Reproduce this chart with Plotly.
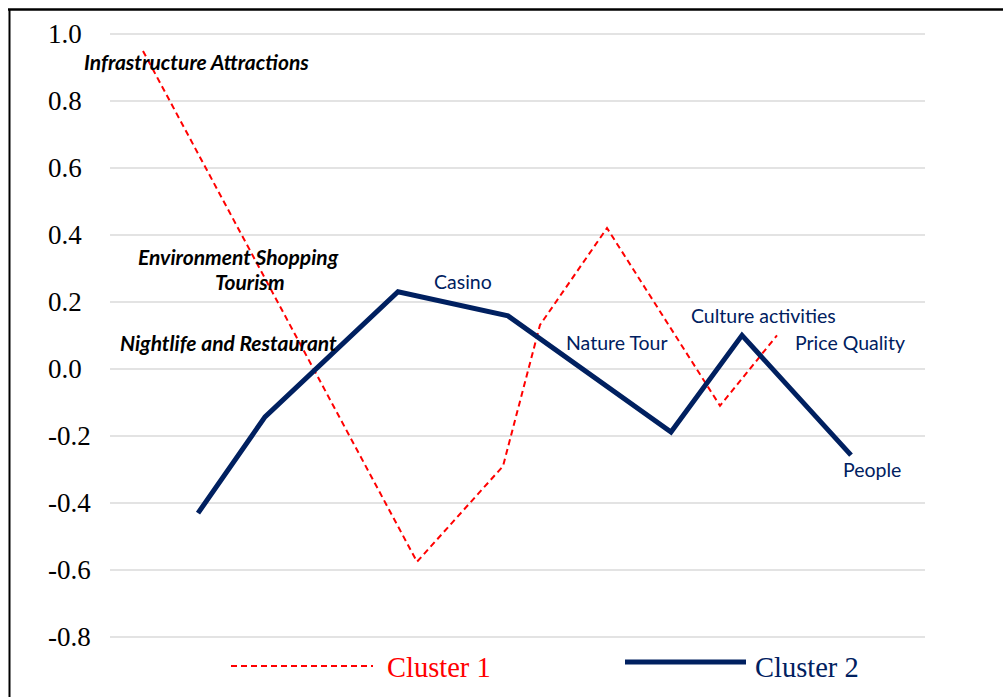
import plotly.graph_objects as go

# ---- data ----
cluster1_x = [0.33, 3.07, 3.93, 4.30, 4.97, 6.10, 6.67]
cluster1_y = [0.948, -0.575, -0.29, 0.131, 0.42, -0.11, 0.10]

cluster2_x = [0.88, 1.55, 2.88, 3.98, 5.61, 6.32, 7.41]
cluster2_y = [-0.43, -0.143, 0.23, 0.158, -0.188, 0.10, -0.257]

tick_vals = [1.0, 0.8, 0.6, 0.4, 0.2, 0.0, -0.2, -0.4, -0.6, -0.8]
tick_text = ["1.0", "0.8", "0.6", "0.4", "0.2", "0.0", "-0.2", "-0.4", "-0.6", "-0.8"]

bold_labels = ["Infrastructure Attractions", "Environment Shopping", "Tourism", "Nightlife and Restaurant"]
bold_pos = [(0.86, 0.918), (1.28, 0.334), (1.40, 0.26), (1.18, 0.08)]

navy_labels = ["Casino", "Nature Tour", "Culture activities", "Price Quality", "People"]
navy_pos = [(3.53, 0.26), (5.07, 0.08), (6.53, 0.158), (7.40, 0.078), (7.62, -0.30)]

series_names = ["Cluster 1", "Cluster 2"]

RED = "#FF0000"
NAVY = "#002060"

W, H = 1003, 697
ML, MR, MT, MB = 110, 78, 17, 43
PW, PH = W - ML - MR, H - MT - MB


def px_to_paper_x(px):
    return (px - ML) / PW


def px_to_paper_y(py):
    return (H - MB - py) / PH


fig = go.Figure()
fig.add_trace(go.Scatter(x=cluster1_x, y=cluster1_y, mode="lines", name=series_names[0],
                         line=dict(color=RED, width=2, dash="6px,4px"), showlegend=False))
fig.add_trace(go.Scatter(x=cluster2_x, y=cluster2_y, mode="lines", name=series_names[1],
                         line=dict(color=NAVY, width=5), showlegend=False))

annotations = []
for txt, (x, y) in zip(bold_labels, bold_pos):
    annotations.append(dict(x=x, y=y, xref="x", yref="y", text=f"<b><i>{txt}</i></b>", showarrow=False,
                            font=dict(family="Lato", size=21, color="#000000"), xanchor="center", yanchor="middle"))
for txt, (x, y) in zip(navy_labels, navy_pos):
    annotations.append(dict(x=x, y=y, xref="x", yref="y", text=txt, showarrow=False,
                            font=dict(family="Lato", size=19.5, color=NAVY), xanchor="center", yanchor="middle"))

# y tick labels (left aligned, as in the reference)
for v, t in zip(tick_vals, tick_text):
    annotations.append(dict(x=px_to_paper_x(46), y=v, xref="paper", yref="y", text=t, showarrow=False,
                            font=dict(family="Liberation Serif", size=27, color="#000000"),
                            xanchor="left", yanchor="middle"))

# legend (drawn manually to match long sample lines)
annotations.append(dict(x=px_to_paper_x(385), y=px_to_paper_y(667), xref="paper", yref="paper",
                        text=series_names[0], showarrow=False, xanchor="left", yanchor="middle",
                        font=dict(family="Liberation Serif", size=28.5, color=RED)))
annotations.append(dict(x=px_to_paper_x(753), y=px_to_paper_y(667), xref="paper", yref="paper",
                        text=series_names[1], showarrow=False, xanchor="left", yanchor="middle",
                        font=dict(family="Liberation Serif", size=28.5, color=NAVY)))

shapes = [
    dict(type="line", xref="paper", yref="paper", x0=px_to_paper_x(231), x1=px_to_paper_x(373),
         y0=px_to_paper_y(666), y1=px_to_paper_y(666), line=dict(color=RED, width=2, dash="6px,4px")),
    dict(type="line", xref="paper", yref="paper", x0=px_to_paper_x(625), x1=px_to_paper_x(746),
         y0=px_to_paper_y(662), y1=px_to_paper_y(662), line=dict(color=NAVY, width=5)),
    # frame lines
    dict(type="line", xref="paper", yref="paper", x0=px_to_paper_x(8), x1=px_to_paper_x(1003),
         y0=px_to_paper_y(9.5), y1=px_to_paper_y(9.5), line=dict(color="#000000", width=2.5)),
    dict(type="line", xref="paper", yref="paper", x0=px_to_paper_x(9.5), x1=px_to_paper_x(9.5),
         y0=px_to_paper_y(9), y1=px_to_paper_y(697), line=dict(color="#000000", width=2)),
]

fig.update_layout(
    width=W, height=H,
    margin=dict(l=ML, r=MR, t=MT, b=MB),
    paper_bgcolor="white", plot_bgcolor="white",
    xaxis=dict(range=[0, PW / 100], showgrid=False, zeroline=False, showticklabels=False,
               showline=False, ticks=""),
    yaxis=dict(range=[-0.85, -0.85 + PH / 335.4], tickvals=tick_vals, showticklabels=False,
               showgrid=True, gridcolor="#E3E3E3", gridwidth=2, zeroline=False, showline=False, ticks=""),
    annotations=annotations,
    shapes=shapes,
    showlegend=False,
)

fig.write_html("out.html")
